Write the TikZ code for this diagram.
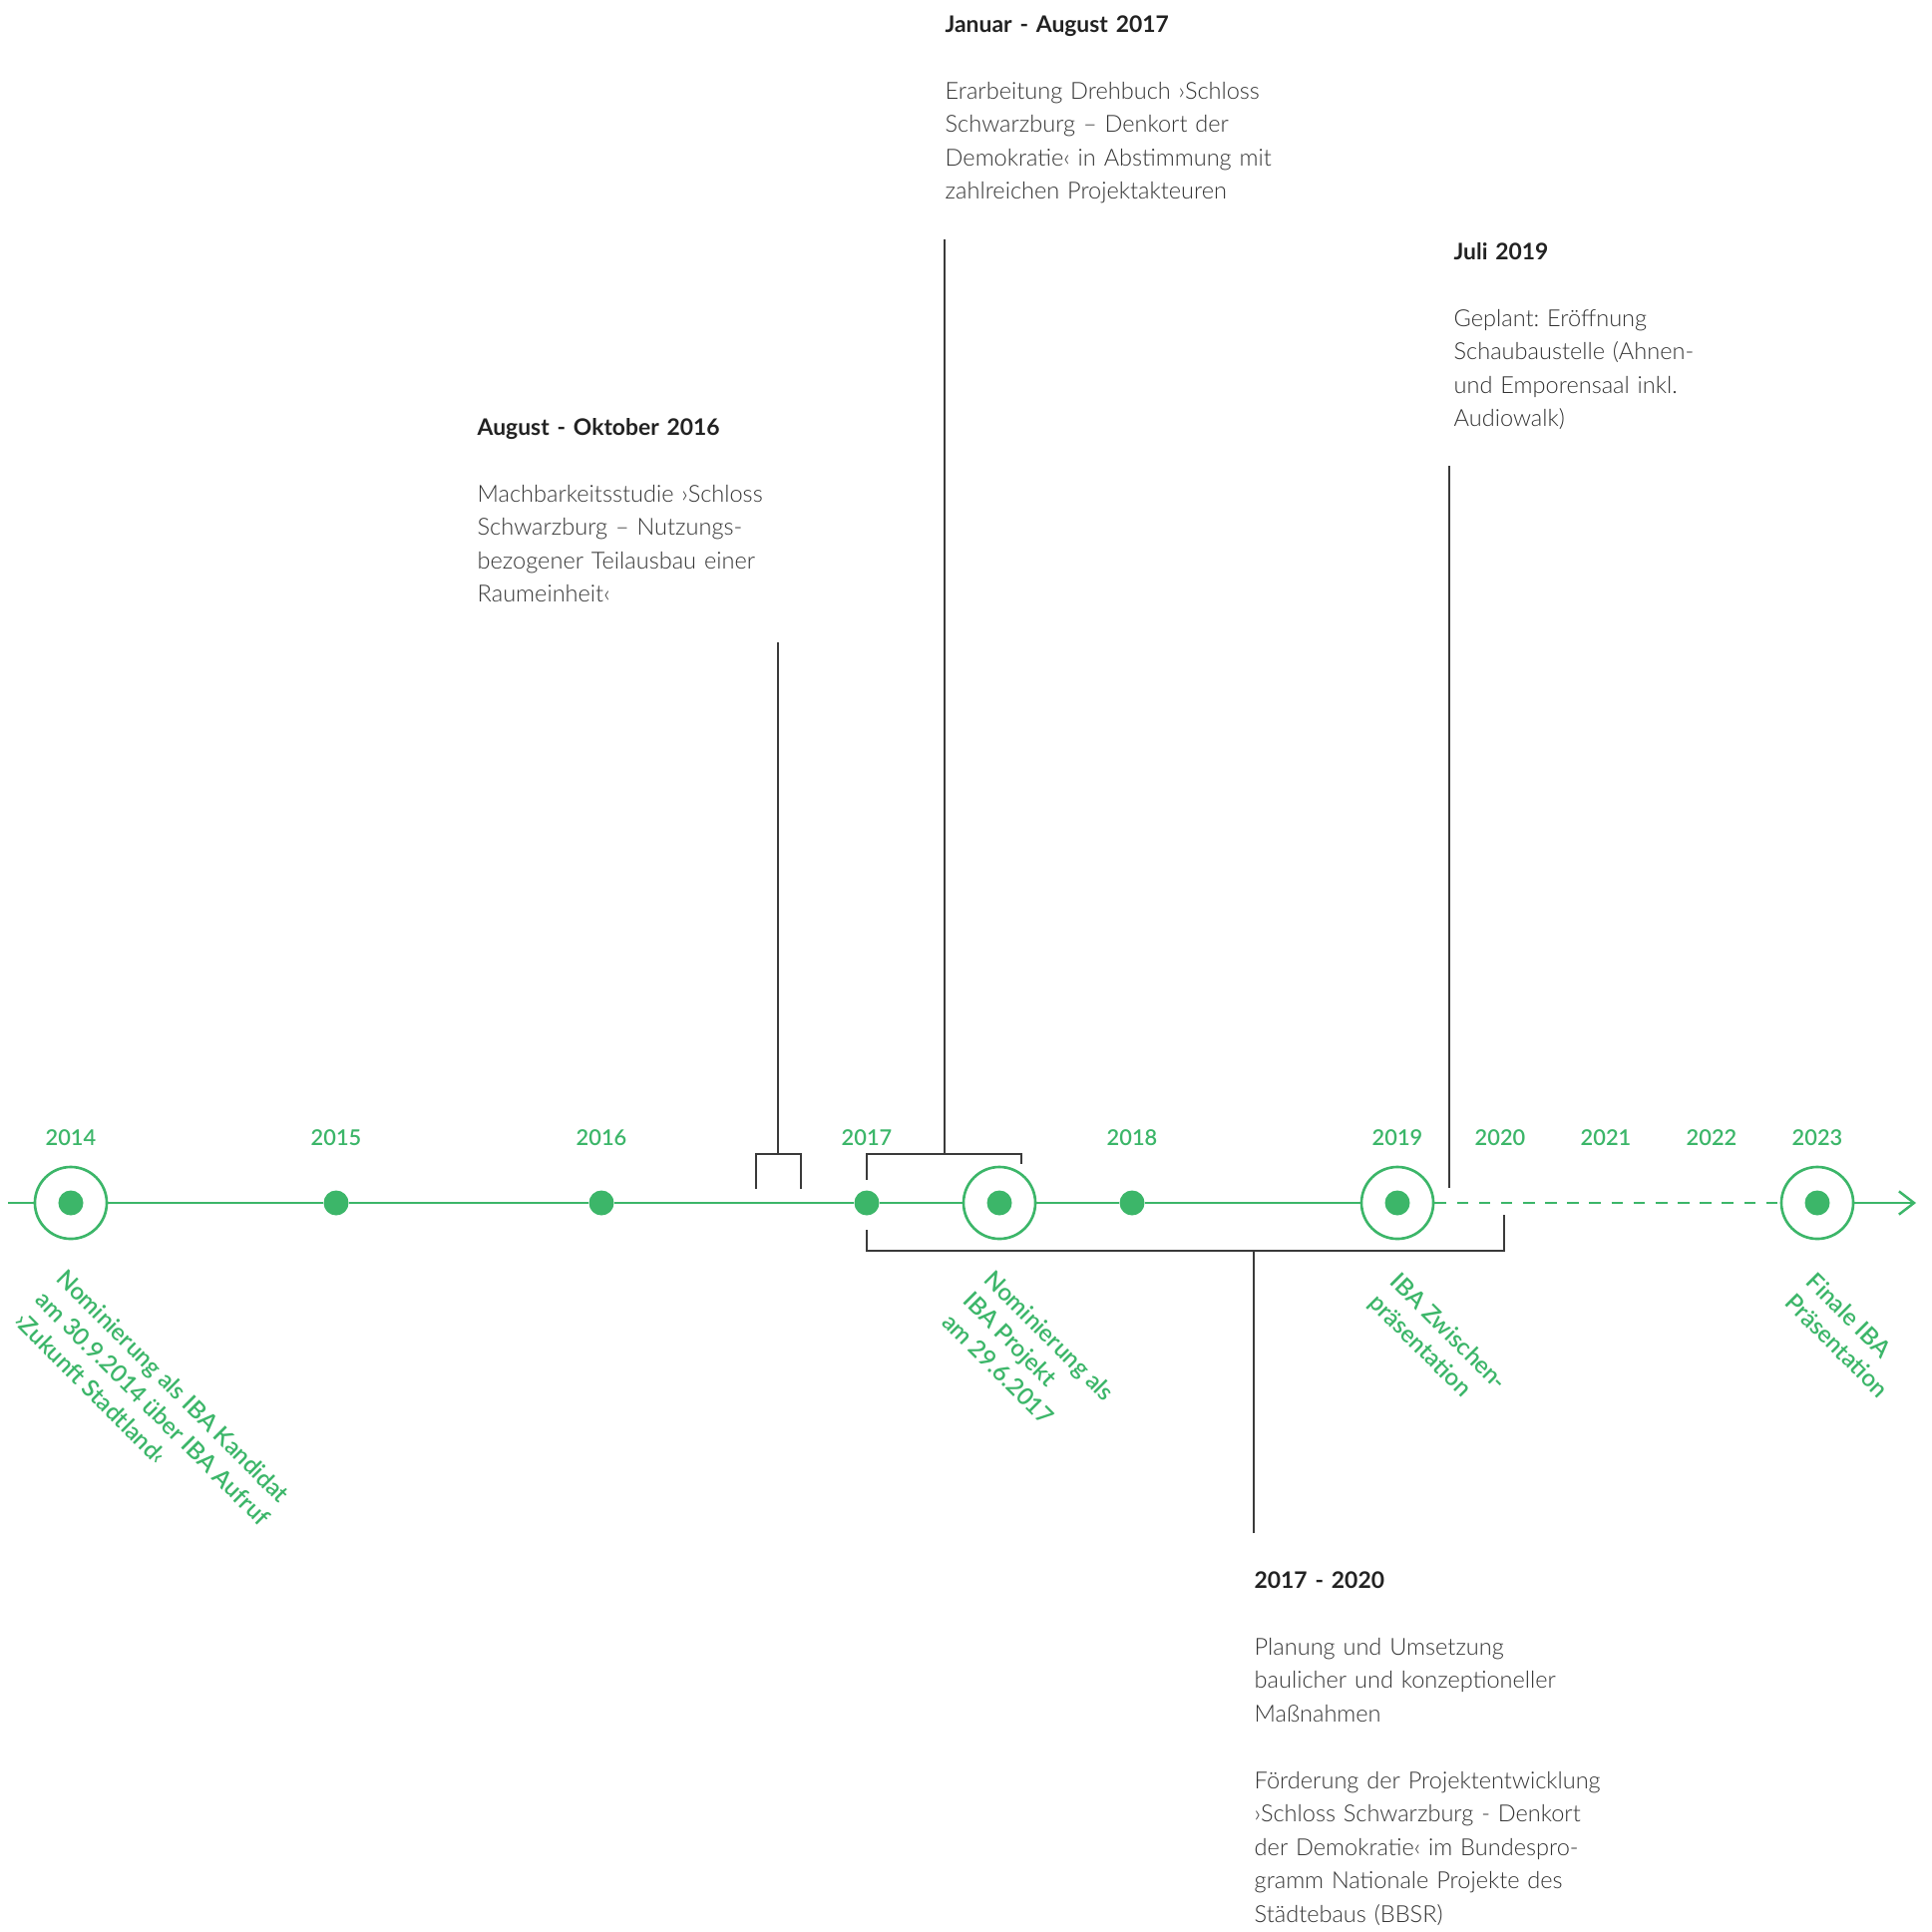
\documentclass[tikz,border=0pt]{standalone}
\usepackage{xcolor}
\usepackage{fontspec}
\setmainfont{Lato}
\IfFontExistsTF{Lato Light}{\newfontfamily\bodyfont{Lato Light}}{\newfontfamily\bodyfont{Lato}}
\IfFontExistsTF{Lato Semibold}{\newfontfamily\markfont{Lato Semibold}}{\newfontfamily\markfont{Lato}[FakeBold=1.2]}
\usetikzlibrary{arrows.meta}
\definecolor{ibagreen}{HTML}{3CB669}
\definecolor{linegrey}{HTML}{3A3A3A}
\definecolor{headgrey}{HTML}{222222}
\definecolor{bodygrey}{HTML}{333333}
\frenchspacing

\begin{document}
\begin{tikzpicture}[x=0.01cm, y=-0.01cm,
  axis/.style={draw=ibagreen, line width=0.7pt},
  ring/.style={circle, draw=ibagreen, line width=0.75pt, fill=white, minimum size=0.72cm, inner sep=0pt},
  dot/.style={circle, fill=ibagreen, minimum size=0.25cm, inner sep=0pt},
  year/.style={anchor=base, inner sep=0pt, text=ibagreen, font=\markfont\fontsize{6.2pt}{7pt}\selectfont},
  event/.style={rotate=-45, anchor=north west, inner sep=0pt, align=left, text=ibagreen,
    font=\markfont\fontsize{6.8pt}{8.54pt}\selectfont},
  bracket/.style={draw=linegrey, line width=0.55pt},
  note/.style={anchor=base west, inner sep=0pt, text width=5cm, align=left, text=bodygrey,
    font=\bodyfont\fontsize{6.7pt}{9.53pt}\selectfont}]
  \path[use as bounding box, fill=white] (0,0) rectangle (1937,1936);

  \node[ring] (r14) at (71,1206) {};
  \node[dot] (d15) at (337,1206) {};
  \node[dot] (d16) at (603,1206) {};
  \node[dot] (d17) at (869,1206) {};
  \node[ring] (r17) at (1002,1206) {};
  \node[dot] (d18) at (1135,1206) {};
  \node[ring] (r19) at (1401,1206) {};
  \node[ring] (r23) at (1822,1206) {};
  \node[dot] (c14) at (r14) {};
  \node[dot] (c17) at (r17) {};
  \node[dot] (c19) at (r19) {};
  \node[dot] (c23) at (r23) {};
  \coordinate (axisstart) at (8,1206);
  \coordinate (axisend) at (1921,1206);

  \draw[axis] (axisstart) -- (r14) -- (d15) -- (d16) -- (d17) -- (r17) -- (d18) -- (r19);
  \draw[axis, dash pattern=on 3.3pt off 3pt] (r19) -- (r23);
  \draw[axis, -{Straight Barb[length=4.3pt, width=6.6pt]}] (r23) -- (axisend);

  \node[year] (y14) at (71,1148) {2014};
  \node[year] (y15) at (337,1148) {2015};
  \node[year] (y16) at (603,1148) {2016};
  \node[year] (y17) at (869,1148) {2017};
  \node[year] (y18) at (1135,1148) {2018};
  \node[year] (y19) at (1401,1148) {2019};
  \node[year] (y20) at (1504,1148) {2020};
  \node[year] (y21) at (1610,1148) {2021};
  \node[year] (y22) at (1716,1148) {2022};
  \node[year] (y23) at (1822,1148) {2023};

  \node[event] (e14) at (68,1270) {Nominierung als IBA Kandidat\\am 30.9.2014 über IBA Aufruf\\›Zukunft Stadtland‹};
  \node[event] (e17) at (998,1271) {Nominierung als\\IBA Projekt\\am 29.6.2017};
  \node[event] (e19) at (1405,1273) {IBA Zwischen-\\präsentation};
  \node[event] (e23) at (1822,1273) {Finale IBA\\Präsentation};

  \node[note] (machbar) at (478,436) {\textcolor{headgrey}{\rmfamily\bfseries\fontsize{6.5pt}{9.53pt}\selectfont August - Oktober 2016}\\[9.53pt]
    Machbarkeitsstudie ›Schloss\\Schwarzburg – Nutzungs-\\bezogener Teilausbau einer\\Raumeinheit‹};
  \node[note] (drehbuch) at (947,32) {\textcolor{headgrey}{\rmfamily\bfseries\fontsize{6.5pt}{9.53pt}\selectfont Januar - August 2017}\\[9.53pt]
    Erarbeitung Drehbuch ›Schloss\\Schwarzburg – Denkort der\\Demokratie‹ in Abstimmung mit\\zahlreichen Projektakteuren};
  \node[note] (schaubau) at (1457,260) {\textcolor{headgrey}{\rmfamily\bfseries\fontsize{6.5pt}{9.53pt}\selectfont Juli 2019}\\[9.53pt]
    Geplant: Eröffnung\\Schaubaustelle (Ahnen-\\und Emporensaal inkl.\\Audiowalk)};
  \node[note] (umsetzung) at (1257,1592) {\textcolor{headgrey}{\rmfamily\bfseries\fontsize{6.5pt}{9.53pt}\selectfont 2017 - 2020}\\[9.53pt]
    Planung und Umsetzung\\baulicher und konzeptioneller\\Maßnahmen\\[9.53pt]
    Förderung der Projektentwicklung\\›Schloss Schwarzburg - Denkort\\der Demokratie‹ im Bundespro-\\gramm Nationale Projekte des\\Städtebaus (BBSR)};

  \coordinate (machbartop) at (780,644);
  \coordinate (drehbuchtop) at (947,240);
  \coordinate (schaubautop) at (1453,467);
  \coordinate (umsetzungtop) at (1257,1537);
  \draw[bracket] (758,1192) |- (803,1157) -- (803,1192);
  \draw[bracket] (machbartop) -- (machbartop |- 0,1157);
  \draw[bracket] (869,1183) |- (1024,1157) -- (1024,1167);
  \draw[bracket] (drehbuchtop) -- (drehbuchtop |- 0,1157);
  \draw[bracket] (869,1233) |- (1508,1254) -- (1508,1218);
  \draw[bracket] (umsetzungtop) -- (umsetzungtop |- 0,1254);
  \draw[bracket] (schaubautop) -- (1453,1191);
\end{tikzpicture}
\end{document}
